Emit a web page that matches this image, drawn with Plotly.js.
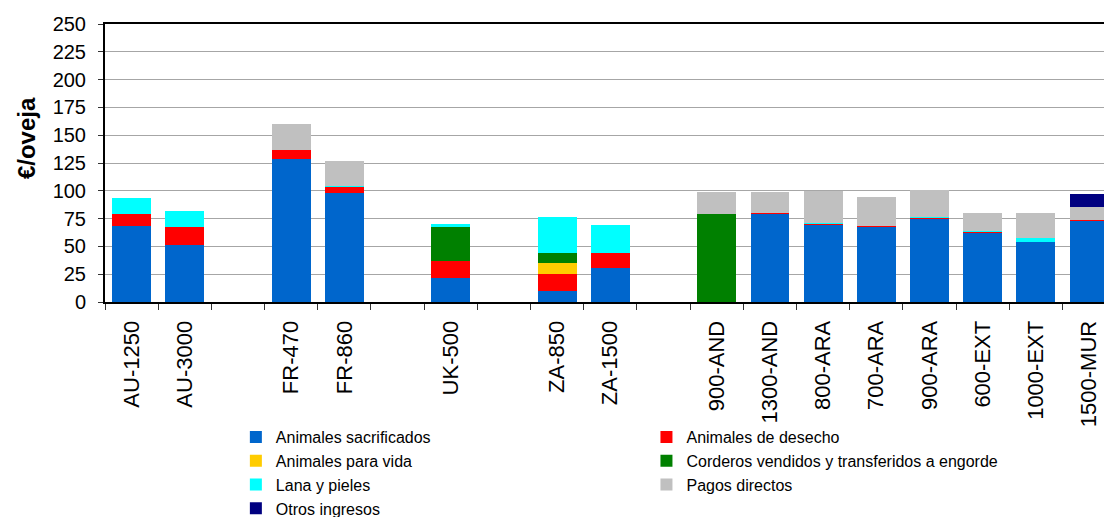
<!DOCTYPE html>
<html>
<head>
<meta charset="utf-8">
<script src="https://cdn.plot.ly/plotly-3.0.1.min.js"></script>
<style>html,body{margin:0;padding:0;overflow:hidden;background:#fff;}#chart{width:1104px;height:517px;}</style>
</head>
<body>
<div id="chart"></div>
<script>
// Category slots (blank slots are the gaps between country groups)
var categories = ["AU-1250","AU-3000"," ","FR-470","FR-860","  ","UK-500","   ","ZA-850","ZA-1500","    ","900-AND","1300-AND","800-ARA","700-ARA","900-ARA","600-EXT","1000-EXT","1500-MUR"];

var animalesSacrificados = [68.5, 51, null, 128.5, 98, null, 22, null, 10, 31, null, 0, 79, 69, 67.5, 74.5, 62, 54, 72.5];
var animalesDesecho      = [10.5, 16.5, null, 8, 5.5, null, 14.5, null, 15, 13, null, 0, 0.8, 1, 1.2, 1, 1.2, 0, 1.2];
var animalesVida         = [0, 0, null, 0, 0, null, 0, null, 10, 0, null, 0, 0, 0, 0, 0, 0, 0, 0];
var corderosVendidos     = [0, 0, null, 0, 0, null, 31, null, 9, 0, null, 79, 0, 0, 0, 0, 0, 0, 0];
var lanaPieles           = [14.5, 14.5, null, 0.5, 1, null, 2.8, null, 32.5, 25, null, 0, 0, 0.8, 0, 0.8, 0.6, 3.6, 0];
var pagosDirectos        = [0, 0, null, 23, 22.5, null, 0, null, 0, 0, null, 20, 19.5, 29, 25.8, 24.3, 16.3, 22.4, 11.7];
var otrosIngresos        = [0, 0, null, 0, 0, null, 0, null, 0, 0, null, 0, 0, 0, 0, 0, 0, 0, 11.7];

var seriesNames = ["Animales sacrificados","Animales de desecho","Animales para vida","Corderos vendidos y transferidos a engorde","Lana y pieles","Pagos directos","Otros ingresos"];
var seriesColors = ["#0066CC","#FF0000","#FFCC00","#008000","#00FFFF","#C0C0C0","#000080"];
var seriesValues = [animalesSacrificados, animalesDesecho, animalesVida, corderosVendidos, lanaPieles, pagosDirectos, otrosIngresos];
// legend column for each series (left column / right column)
var seriesLegend = ["legend","legend2","legend","legend2","legend","legend2","legend"];

var yTickVals = [0,25,50,75,100,125,150,175,200,225,250];

var FONT = "'Liberation Sans', Arial, sans-serif";

var traces = seriesValues.map(function(vals, i){
  return {
    type: 'bar',
    x: categories,
    y: vals,
    name: seriesNames[i],
    legend: seriesLegend[i],
    marker: {color: seriesColors[i], line: {width: 0}},
    hoverinfo: 'x+y+name'
  };
});

var legendCommon = {
  orientation: 'v',
  xanchor: 'left',
  yanchor: 'top',
  traceorder: 'normal',
  font: {family: FONT, size: 16, color: '#000000'},
  bgcolor: 'rgba(0,0,0,0)',
  borderwidth: 0
};

var layout = {
  width: 1104,
  height: 517,
  barmode: 'stack',
  bargap: 0.27,
  paper_bgcolor: '#ffffff',
  plot_bgcolor: '#ffffff',
  font: {family: FONT, color: '#000000'},
  margin: {l: 105, r: 0, t: 24, b: 215, pad: 0, autoexpand: false},
  showlegend: true,
  legend: Object.assign({}, legendCommon, {x: 0.131, y: -0.4245}),
  legend2: Object.assign({}, legendCommon, {x: 0.542, y: -0.4245}),
  xaxis: {
    type: 'category',
    categoryorder: 'array',
    categoryarray: categories,
    range: [-0.5, 18.28],
    showgrid: false,
    zeroline: false,
    showline: true,
    linecolor: '#000000',
    linewidth: 2,
    mirror: true,
    ticks: 'outside',
    tickson: 'boundaries',
    ticklen: 6,
    tickcolor: '#333333',
    tickwidth: 1,
    tickangle: -90,
    ticklabelstandoff: 8,
    automargin: false,
    tickfont: {family: FONT, size: 22, color: '#000000'}
  },
  yaxis: {
    range: [0, 250],
    tickmode: 'array',
    tickvals: yTickVals,
    ticktext: yTickVals.map(String),
    showgrid: true,
    gridcolor: '#A6A6A6',
    gridwidth: 1,
    zeroline: false,
    showline: true,
    linecolor: '#000000',
    linewidth: 2,
    ticks: 'outside',
    ticklen: 5,
    tickcolor: '#333333',
    ticklabelstandoff: 8,
    automargin: false,
    tickfont: {family: FONT, size: 20, color: '#000000'}
  },
  annotations: [{
    text: '<b>€/oveja</b>',
    xref: 'paper', yref: 'paper',
    x: -0.078, y: 0.59,
    xanchor: 'center', yanchor: 'middle',
    textangle: -90,
    showarrow: false,
    font: {family: FONT, size: 24, color: '#000000'}
  }]
};

Plotly.newPlot('chart', traces, layout, {staticPlot: true, displayModeBar: false});
</script>
</body>
</html>
